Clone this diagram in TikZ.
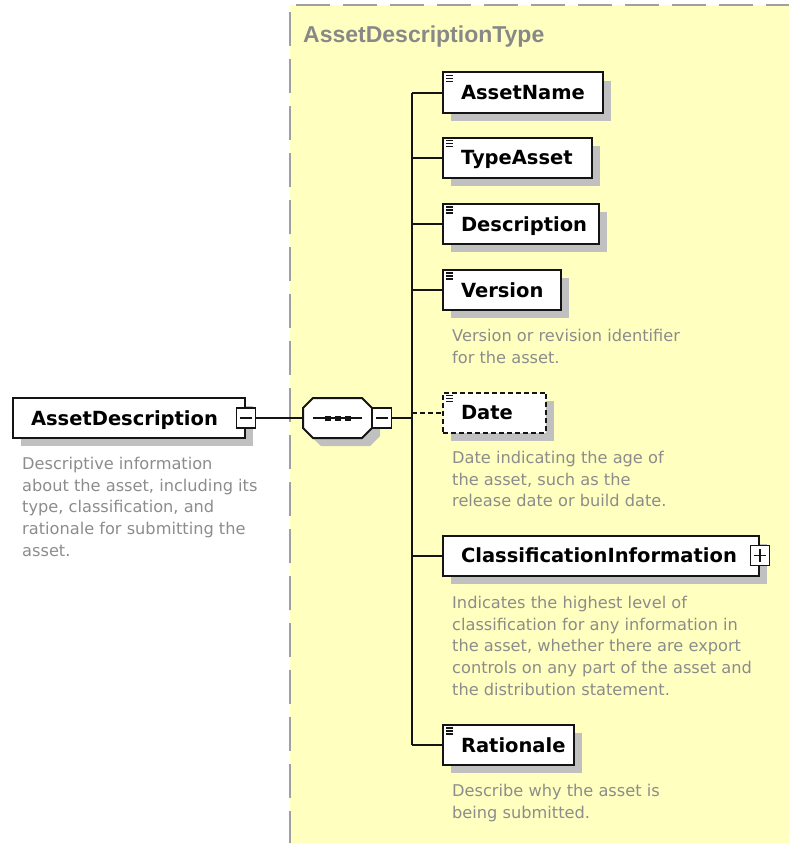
\documentclass[tikz,border=0pt]{standalone}
\usepackage{fontspec}
\setmainfont{DejaVu Sans}
\newfontfamily\titlefont{Liberation Sans}
\usetikzlibrary{shadows}

\definecolor{paneyellow}{RGB}{255,255,192}
\definecolor{panedash}{RGB}{160,160,160}
\definecolor{shadowgray}{RGB}{192,192,192}
\definecolor{notegray}{RGB}{140,140,140}
\definecolor{titlegray}{RGB}{136,136,136}
\definecolor{wire}{RGB}{20,20,20}

% element label with fixed left padding and a chosen right padding
\newcommand\elemlabel[2][15pt]{\hspace*{18pt}#2\hspace*{#1}}

\tikzset{
  elembox/.style={draw=wire, line width=2pt, fill=white, anchor=west,
    minimum height=40pt, inner xsep=0pt, inner ysep=0pt,
    text height=14pt, text depth=0pt,
    font=\bfseries\fontsize{19.5}{20}\selectfont,
    general shadow={fill=shadowgray, shadow xshift=8pt, shadow yshift=-8pt}},
  togglebox/.style={draw=wire, line width=1.5pt, fill=white,
    minimum width=19pt, minimum height=20pt, inner sep=0pt},
  wireline/.style={draw=wire, line width=2pt},
  note/.style={anchor=north west, inner sep=0pt, align=left, text=notegray,
    font=\fontsize{16.2}{21.7}\selectfont},
  simpleicon/.style={draw=wire, line width=1.2pt}
}

\begin{document}
\begin{tikzpicture}[x=1pt,y=-1pt]
\useasboundingbox (0,0) rectangle (788,843);

% type pane
\fill[paneyellow] (290,5) rectangle (790,845);
\draw[panedash, line width=2.5pt, dash pattern=on 34pt off 13pt]
  (290,845) -- (290,5) -- (790,5);
\node[anchor=base west, inner sep=0pt, text=titlegray,
  font=\titlefont\bfseries\fontsize{23}{23}\selectfont] (ptitle) at (303,43)
  {AssetDescriptionType};

% root element
\node[elembox] (root) at (12,418) {\elemlabel[27pt]{AssetDescription}};
\node[togglebox] (roottog) at (root.east) {};
\draw[wire, line width=1.5pt] ([xshift=4pt]roottog.west) -- ([xshift=-4pt]roottog.east);
\node[note] (rootnote) at (22,457) {Descriptive information\\about the asset, including its\\type, classification, and\\rationale for submitting the\\asset.};

% sequence compositor
\node[minimum width=69pt, minimum height=40pt, inner sep=0pt] (seq) at (337.5,418) {};
\fill[shadowgray] (321,406) -- (370,406) -- (380,416) -- (380,436) -- (370,446)
  -- (321,446) -- (311,436) -- (311,416) -- cycle;
\filldraw[wire, fill=white, line width=2pt] (313,398) -- (362,398) -- (372,408)
  -- (372,428) -- (362,438) -- (313,438) -- (303,428) -- (303,408) -- cycle;
\draw[wire, line width=1.5pt] (313,418) -- (362,418);
\foreach \dx in {328,338,348}
  \fill[wire] (\dx-3,415.5) rectangle (\dx+3,420.5);
\node[togglebox] (seqtog) at (382,418) {};
\draw[wire, line width=1.5pt] ([xshift=4pt]seqtog.west) -- ([xshift=-4pt]seqtog.east);

% child elements
\node[elembox] (aname) at (442,92.5) {\elemlabel[18pt]{AssetName}};
\node[elembox] (tasset) at (442,157.5) {\elemlabel[19pt]{TypeAsset}};
\node[elembox] (descr) at (442,224) {\elemlabel[12pt]{Description}};
\node[elembox] (vers) at (442,290) {\elemlabel[17.5pt]{Version}};
\node[elembox, dashed, dash pattern=on 5pt off 3pt] (date) at (442,412.5) {\elemlabel[33pt]{Date}};
\node[elembox] (cls) at (442,555.5) {\elemlabel[22pt]{ClassificationInformation}};
\node[elembox] (rat) at (442,745) {\elemlabel[8pt]{Rationale}};

% simple-content icons
\foreach \n in {aname,tasset,descr,vers,date,rat}
  \foreach \d in {4,7,10}
    \draw[simpleicon] ([shift={(4,\d)}]\n.north west) -- ++(7,0);

% expand toggle
\node[togglebox] (clstog) at (cls.east) {};
\draw[wire, line width=1.5pt] ([xshift=4pt]clstog.west) -- ([xshift=-4pt]clstog.east);
\draw[wire, line width=1.5pt] ([yshift=4pt]clstog.south) -- ([yshift=-4pt]clstog.north);

% annotations
\node[note] (versnote) at (452,329) {Version or revision identifier\\for the asset.};
\node[note] (datenote) at (452,451) {Date indicating the age of\\the asset, such as the\\release date or build date.};
\node[note] (clsnote) at (452,596) {Indicates the highest level of\\classification for any information in\\the asset, whether there are export\\controls on any part of the asset and\\the distribution statement.};
\node[note] (ratnote) at (452,784) {Describe why the asset is\\being submitted.};

% connectors
\coordinate (trunk) at (412,418);
\draw[wireline] (roottog.east) -- (seq.west);
\draw[wireline] (seqtog.east) -- (trunk);
\draw[wireline] (trunk |- aname.west) -- (trunk |- rat.west);
\foreach \n in {aname,tasset,descr,vers,cls,rat}
  \draw[wireline] (trunk |- \n.west) -- (\n.west);
\draw[wireline, dashed, dash pattern=on 5pt off 3pt] (trunk |- date.west) -- (date.west);
\end{tikzpicture}
\end{document}
